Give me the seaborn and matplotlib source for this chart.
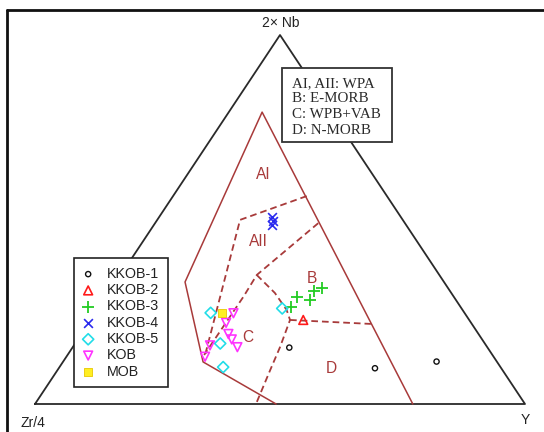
import numpy as np
import pandas as pd
import matplotlib
matplotlib.use("Agg")
import matplotlib.pyplot as plt
from matplotlib.lines import Line2D
from matplotlib.patches import Rectangle
import seaborn as sns

# ---------------- data: ternary compositions in % as (2Nb, Zr/4, Y) ----------------
KKOB_1 = [(15.3, 40.5, 44.3), (9.7, 25.8, 64.6), (11.5, 12.3, 76.2)]
KKOB_2 = [(22.8, 33.9, 43.4)]
KKOB_3 = [(26.2, 34.7, 39.2), (29.1, 32.0, 38.9), (28.3, 29.8, 41.9),
          (30.6, 27.8, 41.6), (31.5, 25.7, 42.8)]
KKOB_4 = [(50.8, 26.3, 22.9), (49.7, 26.6, 23.7), (48.6, 27.3, 24.1)]
KKOB_5 = [(24.7, 51.8, 23.5), (16.4, 54.0, 29.6), (10.0, 56.6, 33.4),
          (25.9, 36.6, 37.5)]
KOB = [(24.6, 47.2, 28.2), (22.0, 50.0, 28.0), (19.0, 51.1, 30.0),
       (17.5, 51.1, 31.4), (15.4, 51.0, 33.6), (15.9, 56.4, 27.8),
       (12.8, 58.9, 28.3)]
MOB = [(24.7, 49.4, 25.9)]

group_names = ["KKOB-1", "KKOB-2", "KKOB-3", "KKOB-4", "KKOB-5", "KOB", "MOB"]
group_data = [KKOB_1, KKOB_2, KKOB_3, KKOB_4, KKOB_5, KOB, MOB]

# triangle and field boundaries (Meschede 1986), (2Nb, Zr/4, Y) %
TRIANGLE = [(0, 100, 0), (100, 0, 0), (0, 0, 100), (0, 100, 0)]
FIELD_OUTER = [(0, 50.8, 49.2), (11.4, 60.0, 28.6), (33.1, 52.9, 14.1),
               (79.1, 14.1, 6.8), (0, 22.9, 77.1)]
DASH_A = [(56.4, 16.4, 27.3), (49.9, 33.2, 16.9), (13.3, 58.7, 28.1)]
DASH_B = [(49.0, 17.7, 33.3), (35.0, 37.3, 27.8), (29.1, 42.9, 28.0),
          (13.3, 58.9, 27.9)]
DASH_C = [(35.0, 37.3, 27.8), (30.1, 36.0, 33.9), (25.5, 35.9, 38.6),
          (22.8, 36.6, 40.7), (15.4, 42.3, 42.3), (9.2, 47.4, 43.4),
          (0, 54.9, 45.1)]
DASH_D = [(22.8, 36.6, 40.7), (21.7, 20.6, 57.7)]

field_labels = ["AI", "AII", "B", "C", "D"]
field_label_pos = [(62.3, 22.3, 15.4), (44.0, 32.4, 23.6), (34.1, 26.5, 39.4),
                   (18.1, 47.6, 34.3), (9.7, 34.6, 55.7)]

# vertex labels in the order of TRIANGLE vertices: Zr/4, 2Nb, Y
vertex_labels = ["Zr/4", "2\u00d7 Nb", "Y"]
info_lines = ["AI, AII: WPA", "B: E-MORB", "C: WPB+VAB", "D: N-MORB"]


def tern(points):
    a = np.asarray(points, dtype=float)
    s = a.sum(axis=1)
    nb = a[:, 0] / s
    y = a[:, 2] / s
    return y + nb / 2.0, nb


# ---------------- styling ----------------
sns.set_style("white")
plt.rcParams["font.family"] = ["Liberation Sans", "DejaVu Sans"]

W, H = 544, 432
fig = plt.figure(figsize=(W / 100, H / 100), dpi=100)
ax = fig.add_axes([35 / W, 28 / H, 490 / W, 369 / H])
ax.set_xlim(0, 1)
ax.set_ylim(0, 1)
ax.axis("off")

BROWN = "#A83A3A"

# triangle
tx, ty = tern(TRIANGLE)
ax.plot(tx, ty, color="#2a2a2a", lw=1.3, clip_on=False, zorder=1)

# fields
fx, fy = tern(FIELD_OUTER)
ax.plot(fx, fy, color=BROWN, lw=1.1, clip_on=False, zorder=1)
for seg in (DASH_A, DASH_B, DASH_C, DASH_D):
    dx, dy = tern(seg)
    ax.plot(dx, dy, color=BROWN, lw=1.3, ls=(0, (3.7, 2.2)), clip_on=False, zorder=1)

for lab, pos in zip(field_labels, field_label_pos):
    x, y = tern([pos])
    ax.text(x[0], y[0], lab, color=BROWN, fontsize=11.2, ha="center", va="center")

# samples
styles = {
    "KKOB-1": dict(marker="o", c="#111111", s=14, open=True, lw=1.0),
    "KKOB-2": dict(marker="^", c="#ff1a1a", s=40, open=True, lw=1.2),
    "KKOB-3": dict(marker="+", c="#22cc22", s=75, open=False, lw=1.3),
    "KKOB-4": dict(marker="x", c="#2a2aee", s=40, open=False, lw=1.2),
    "KKOB-5": dict(marker="D", c="#22dde8", s=32, open=True, lw=1.2),
    "KOB": dict(marker="v", c="#ff33ff", s=40, open=True, lw=1.2),
    "MOB": dict(marker="s", c="#ffee22", s=35, open=False, lw=0.6),
}

rows = []
for name, pts in zip(group_names, group_data):
    x, y = tern(pts)
    for xi, yi in zip(x, y):
        rows.append({"x": xi, "h": yi, "group": name})
df = pd.DataFrame(rows)

for name in group_names:
    st = styles[name]
    sub = df[df["group"] == name]
    if st["open"]:
        sns.scatterplot(data=sub, x="x", y="h", ax=ax, marker=st["marker"], s=st["s"],
                        facecolor="none", edgecolor=st["c"], linewidth=st["lw"],
                        label=name, zorder=3, clip_on=False)
    elif name == "MOB":
        sns.scatterplot(data=sub, x="x", y="h", ax=ax, marker=st["marker"], s=st["s"],
                        facecolor=st["c"], edgecolor="#e8c800", linewidth=st["lw"],
                        label=name, zorder=3, clip_on=False)
    else:
        sns.scatterplot(data=sub, x="x", y="h", ax=ax, marker=st["marker"], s=st["s"],
                        color=st["c"], linewidth=st["lw"], label=name, zorder=3,
                        clip_on=False)

# vertex labels (offsets in pixels)
vx, vy = tern(TRIANGLE[:3])
offsets = [(-2, -19), (1, 12), (0, -16)]
for lab, x, y, off in zip(vertex_labels, vx, vy, offsets):
    ax.annotate(lab, (x, y), xytext=(off[0] * 0.72, off[1] * 0.72),
                textcoords="offset points", ha="center", va="center",
                fontsize=10, color="#222222", annotation_clip=False)

# legend
leg = ax.legend(loc="upper left", bbox_to_anchor=(74 / W, 1 - 258 / H),
                bbox_transform=fig.transFigure, frameon=True, fancybox=False,
                fontsize=10.3, borderpad=0.62, handlelength=0.74, handletextpad=0.96,
                labelspacing=0.16, borderaxespad=0, scatterpoints=1, framealpha=1)
leg.get_frame().set_edgecolor("#222222")
leg.get_frame().set_linewidth(1.2)
for t in leg.get_texts():
    t.set_color("#222222")

# info box
fig.add_artist(Rectangle((281.7 / W, 1 - 141.7 / H), 110 / W, 73.4 / H,
                         transform=fig.transFigure, facecolor="white",
                         edgecolor="#333333", lw=1.3, zorder=5))
for i, line in enumerate(info_lines):
    fig.text(291.5 / W, 1 - (83.3 + i * 15.6) / H, line, ha="left", va="center",
             fontsize=10.8, color="#2a2a2a", family="Liberation Serif", zorder=6)

# outer frame (top and left)
fig.add_artist(Line2D([7 / W, 1], [1 - 10 / H, 1 - 10 / H], transform=fig.transFigure,
                      color="#111111", lw=2.0))
fig.add_artist(Line2D([7 / W, 7 / W], [0, 1 - 10 / H], transform=fig.transFigure,
                      color="#111111", lw=2.0))

fig.savefig("out.png", dpi=100)
